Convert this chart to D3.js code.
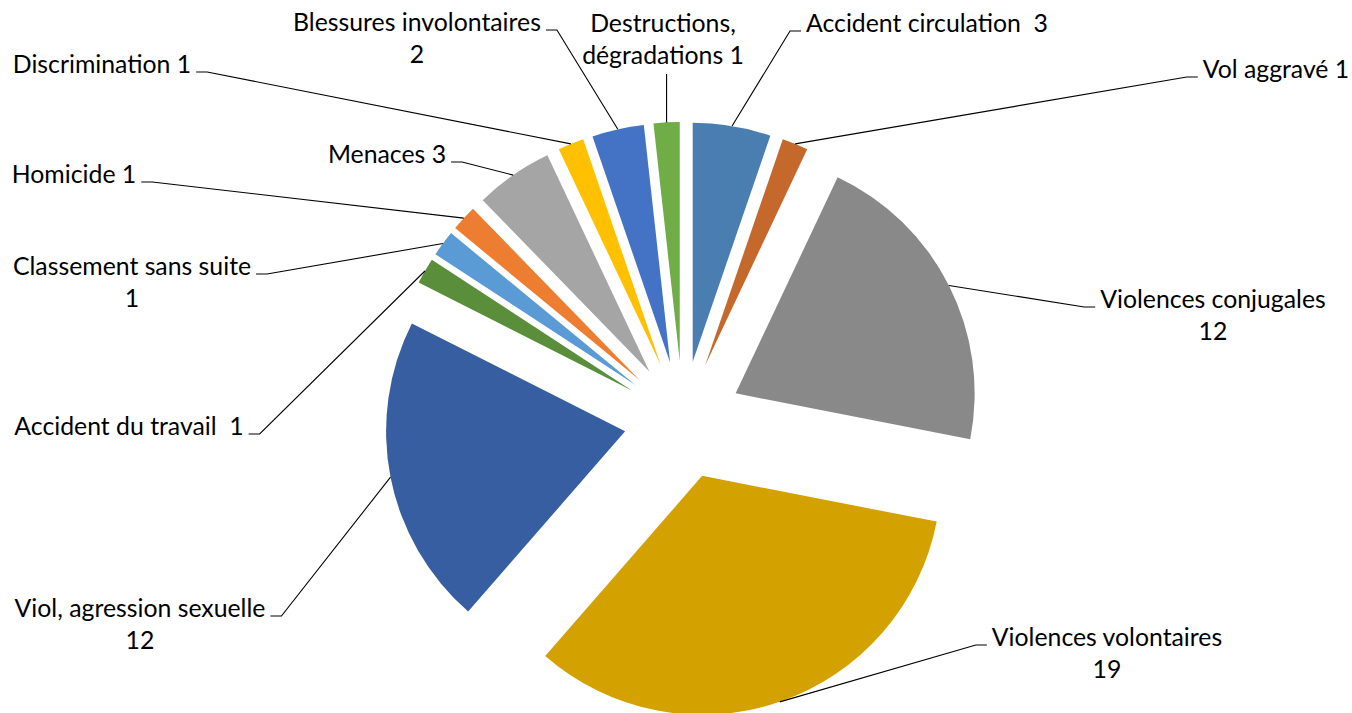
<!DOCTYPE html>
<html>
<head>
<meta charset="utf-8">
<script src="https://cdn.jsdelivr.net/npm/d3@7"></script>
<style>
  html, body { margin: 0; padding: 0; background: #fff; }
  svg { display: block; }
  text { font-family: Lato, "Liberation Sans", sans-serif; fill: #000; white-space: pre; }
</style>
</head>
<body>
<svg id="chart" width="1352" height="713"></svg>
<script>
// Categories, in clockwise order starting at 12 o'clock
const categories = [
  "Accident circulation",
  "Vol aggravé",
  "Violences conjugales",
  "Violences volontaires",
  "Viol, agression sexuelle",
  "Accident du travail",
  "Classement sans suite",
  "Homicide",
  "Menaces",
  "Discrimination",
  "Blessures involontaires",
  "Destructions, dégradations"
];
const values = [3, 1, 12, 19, 12, 1, 1, 1, 3, 1, 2, 1];
const sliceColors = [
  "#4A7EB0", "#C4682B", "#898989", "#D4A200", "#375EA1", "#5A8E3A",
  "#5B9BD5", "#ED7D31", "#A5A5A5", "#FFC000", "#4472C4", "#70AD47"
];

// Label placement: block centre x, first baseline y, which side the leader enters from, text form
const labelLayout = [
  { cx: 927,  y: 32,  side: "right", form: "inline2" },
  { cx: 1276, y: 78,  side: "right", form: "inline" },
  { cx: 1213, y: 308, side: "right", form: "stack" },
  { cx: 1107, y: 646, side: "right", form: "stack" },
  { cx: 140,  y: 617, side: "left",  form: "stack" },
  { cx: 129,  y: 435, side: "left",  form: "inline2" },
  { cx: 132,  y: 275, side: "left",  form: "stack" },
  { cx: 74,   y: 183, side: "left",  form: "inline" },
  { cx: 387,  y: 163, side: "left",  form: "inline" },
  { cx: 102,  y: 73,  side: "left",  form: "inline" },
  { cx: 417,  y: 31,  side: "left",  form: "stack" },
  { cx: 663,  y: 32,  side: "below", form: "split" }
];

const width = 1352, height = 713;
const center = [683, 420];
const radius = 239;
const explode = 59;
const lineHeight = 32;
const fontSize = 24.8;

const data = categories.map((c, i) => ({ category: c, value: values[i] }));

const color = d3.scaleOrdinal().domain(categories).range(sliceColors);

const pie = d3.pie()
  .sort(null)
  .value(d => d.value)
  .startAngle(0)
  .endAngle(2 * Math.PI);

const arc = d3.arc().innerRadius(0).outerRadius(radius);

const arcs = pie(data);

const svg = d3.select("#chart");
const root = svg.append("g").attr("transform", `translate(${center[0]},${center[1]})`);

// Each slice is pushed out along its bisector
function offset(a, dist) {
  const mid = (a.startAngle + a.endAngle) / 2;
  return [Math.sin(mid) * dist, -Math.cos(mid) * dist];
}

root.selectAll("path.slice")
  .data(arcs)
  .join("path")
  .attr("class", "slice")
  .attr("d", arc)
  .attr("fill", d => color(d.data.category))
  .attr("transform", d => {
    const [dx, dy] = offset(d, explode);
    return `translate(${dx},${dy})`;
  });

function labelLines(cat, v, form) {
  if (form === "inline") return [`${cat} ${v}`];
  if (form === "inline2") return [`${cat}  ${v}`];
  if (form === "stack") return [cat, `${v}`];
  // split after the comma
  const k = cat.indexOf(",");
  return [cat.slice(0, k + 1), `${cat.slice(k + 2)} ${v}`];
}

const labels = svg.append("g");
const leaders = svg.append("g");

arcs.forEach((a, i) => {
  const lay = labelLayout[i];
  const lines = labelLines(a.data.category, a.data.value, lay.form);

  const t = labels.append("text")
    .attr("text-anchor", "middle")
    .attr("font-size", fontSize);
  lines.forEach((ln, j) => {
    t.append("tspan").attr("x", lay.cx).attr("y", lay.y + j * lineHeight).text(ln);
  });
  const firstW = t.select("tspan").node().getComputedTextLength();

  // outer arc point at the slice bisector
  const [ox, oy] = offset(a, explode + radius);
  const sx = center[0] + ox, sy = center[1] + oy;

  let pts;
  if (lay.side === "below") {
    pts = [[sx, sy], [sx, lay.y + (lines.length - 1) * lineHeight + 10]];
  } else {
    const ys = lay.y - 1;
    const dir = lay.side === "right" ? -1 : 1;
    const near = lay.cx + dir * (firstW / 2 + 5);
    const far = near + dir * 11;
    pts = [[sx, sy], [far, ys], [near, ys]];
  }
  leaders.append("path")
    .attr("d", d3.line()(pts))
    .attr("fill", "none")
    .attr("stroke", "#000")
    .attr("stroke-width", 1.1);
});
</script>
</body>
</html>
